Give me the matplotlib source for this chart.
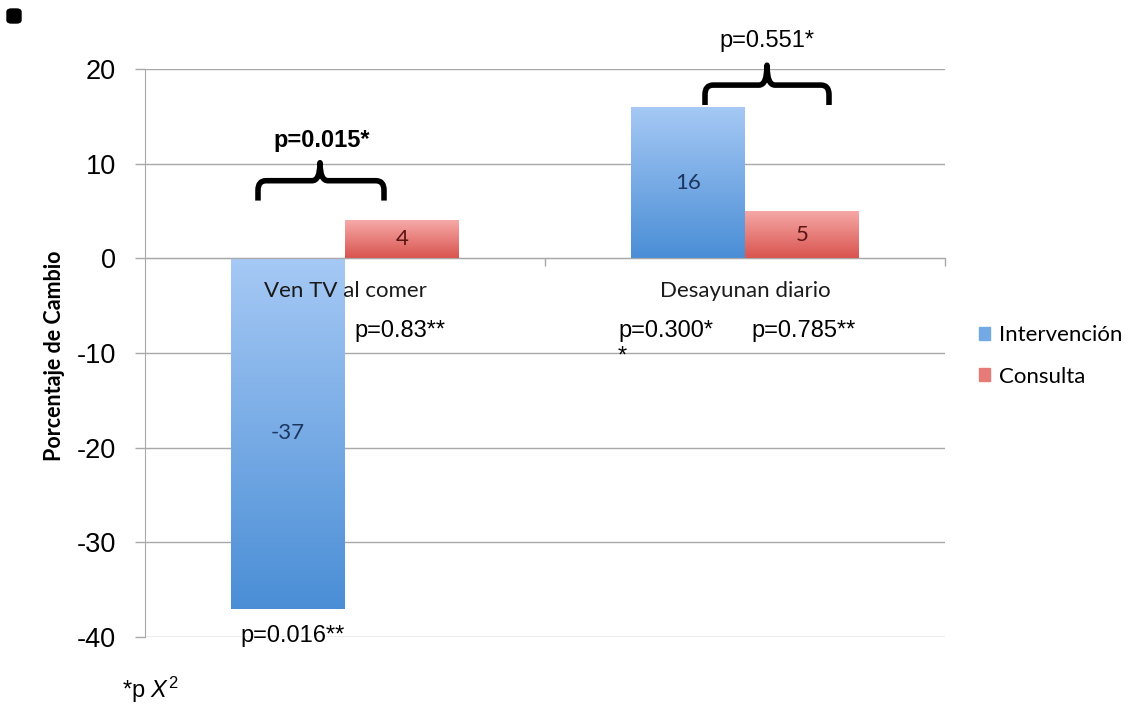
import numpy as np
import matplotlib
matplotlib.use("Agg")
import matplotlib.pyplot as plt
import matplotlib.patches as mpatches
from matplotlib.path import Path
from matplotlib.colors import LinearSegmentedColormap

plt.rcParams["mathtext.fontset"] = "custom"
plt.rcParams["mathtext.rm"] = "Liberation Sans"
plt.rcParams["mathtext.it"] = "Liberation Sans:italic"

# ── datos ───────────────────────────────────────────────────────────────
categorias   = ["Ven TV al comer", "Desayunan diario"]
series       = ["Intervención", "Consulta"]
intervencion = [-37, 16]
consulta     = [4, 5]
p_entre      = ["p=0.015*", "p=0.551*"]
p_interv     = ["p=0.016**", "p=0.300*\n*"]
p_consulta   = ["p=0.83**", "p=0.785**"]
yticks       = [20, 10, 0, -10, -20, -30, -40]

SANS  = "Liberation Sans"
HUMAN = "Lato"
FS_P  = 17

azul = LinearSegmentedColormap.from_list("azul", ["#a6c9f5", "#4a8ed6"])
rojo = LinearSegmentedColormap.from_list("rojo", ["#f6aaa8", "#d9544f"])
gris = "#a8a8a8"

fig = plt.figure(figsize=(11.33, 7.07), dpi=100)
ax = fig.add_axes([145 / 1133, 1 - 637 / 707, 800 / 1133, 568 / 707])

x = np.arange(len(categorias))
w = 0.285


def barra_degradado(ax, xc, valor, cmap):
    bar = ax.bar(xc, valor, width=w, color="none", edgecolor="none",
                 zorder=2)[0]
    y0, y1 = min(0, valor), max(0, valor)
    grad = np.linspace(0, 1, 256).reshape(-1, 1)
    im = ax.imshow(grad, cmap=cmap, aspect="auto", origin="upper",
                   extent=(xc - w / 2, xc + w / 2, y0, y1), zorder=2)
    im.set_clip_path(bar)
    return bar


for i in x:
    barra_degradado(ax, i - w / 2, intervencion[i], azul)
    barra_degradado(ax, i + w / 2, consulta[i], rojo)
    ax.text(i - w / 2, intervencion[i] / 2, f"{intervencion[i]}",
            ha="center", va="center", fontsize=16, family=HUMAN,
            color="#1c3660", zorder=5)
    ax.text(i + w / 2, consulta[i] / 2, f"{consulta[i]}",
            ha="center", va="center", fontsize=16, family=HUMAN,
            color="#5a1414", zorder=5)
    ax.text(i, -3.5, categorias[i], ha="center", va="center",
            fontsize=16, family=HUMAN, color="#1a1a1a", zorder=5)


# llaves entre grupos
def llave(ax, x0, x1, xt, yb, yh, yt, rx=0.02, ry=1.0):
    verts = [
        (x0, yb), (x0, yh - ry),
        (x0, yh), (x0 + rx, yh),
        (xt - rx, yh),
        (xt, yh), (xt, yt),
        (xt, yh), (xt + rx, yh),
        (x1 - rx, yh),
        (x1, yh), (x1, yh - ry),
        (x1, yb),
    ]
    codes = [Path.MOVETO, Path.LINETO,
             Path.CURVE3, Path.CURVE3,
             Path.LINETO,
             Path.CURVE3, Path.CURVE3,
             Path.CURVE3, Path.CURVE3,
             Path.LINETO,
             Path.CURVE3, Path.CURVE3,
             Path.LINETO]
    ax.add_patch(mpatches.PathPatch(Path(verts, codes), fill=False,
                                    lw=4, color="black", capstyle="butt",
                                    joinstyle="round", clip_on=False,
                                    zorder=6))


llave(ax, -0.2175, 0.0975, -0.0625, 6.1, 8.2, 10.1)
llave(ax, 0.9, 1.21, 1.055, 16.2, 18.3, 20.4)

ax.text(-0.0575, 12.5, p_entre[0], ha="center", va="center",
        fontsize=FS_P, family=SANS, fontweight="bold", zorder=6)
ax.text(1.055, 23.0, p_entre[1], ha="center", va="center",
        fontsize=FS_P, family=SANS, clip_on=False, zorder=6)

# p-valores por grupo
ax.text(-0.13, -39.9, p_interv[0], ha="center", va="center",
        fontsize=FS_P, family=SANS, zorder=6)
ax.text(0.6825, -6.5, p_interv[1], ha="left", va="top", linespacing=1.2,
        fontsize=FS_P, family=SANS, zorder=6)
ax.text(0.1375, -7.7, p_consulta[0], ha="center", va="center",
        fontsize=FS_P, family=SANS, zorder=6)
ax.text(1.1475, -7.7, p_consulta[1], ha="center", va="center",
        fontsize=FS_P, family=SANS, zorder=6)

# ejes
ax.set_xlim(-0.5, 1.5)
ax.set_ylim(-40, 20)
ax.set_axisbelow(True)
ax.set_yticks(yticks)
ax.set_yticklabels([f"{t}" for t in yticks], family=SANS, fontsize=19.5)
ax.tick_params(axis="y", length=7, width=1, color=gris, pad=14)
ax.yaxis.grid(True, color=gris, lw=1)

ax.set_xticks([])
ax.set_xticks([0.5, 1.5], minor=True)
ax.tick_params(axis="x", which="minor", length=6, width=1, color=gris,
               direction="out")

for lado in ["top", "right"]:
    ax.spines[lado].set_visible(False)
ax.spines["left"].set_color(gris)
ax.spines["bottom"].set_position(("data", 0))
ax.spines["bottom"].set_color(gris)

ax.set_ylabel("Porcentaje de Cambio", family=HUMAN, fontweight="bold",
              fontsize=15.5)
ax.yaxis.set_label_coords(-0.1, 0.496)

# leyenda
handles = [mpatches.Patch(color=azul(0.55), label=series[0]),
           mpatches.Patch(color=rojo(0.55), label=series[1])]
fig.legend(handles=handles, loc="center left",
           bbox_to_anchor=(979 / 1133, 1 - 356 / 707), frameon=False,
           prop={"family": HUMAN, "size": 16}, handlelength=0.5,
           handleheight=0.5, handletextpad=0.4, labelspacing=0.95,
           borderpad=0, borderaxespad=0)

# nota al pie y viñeta
fig.text(122 / 1133, 1 - 690 / 707, "*p $X^{2}$", family=SANS,
         fontsize=17, va="center", ha="left")
fig.patches.append(mpatches.FancyBboxPatch(
    (7 / 1133, 1 - 23 / 707), 14 / 1133, 14 / 707,
    boxstyle="round,pad=0,rounding_size=0.004",
    transform=fig.transFigure, color="black"))

fig.savefig("out.png", dpi=100)
